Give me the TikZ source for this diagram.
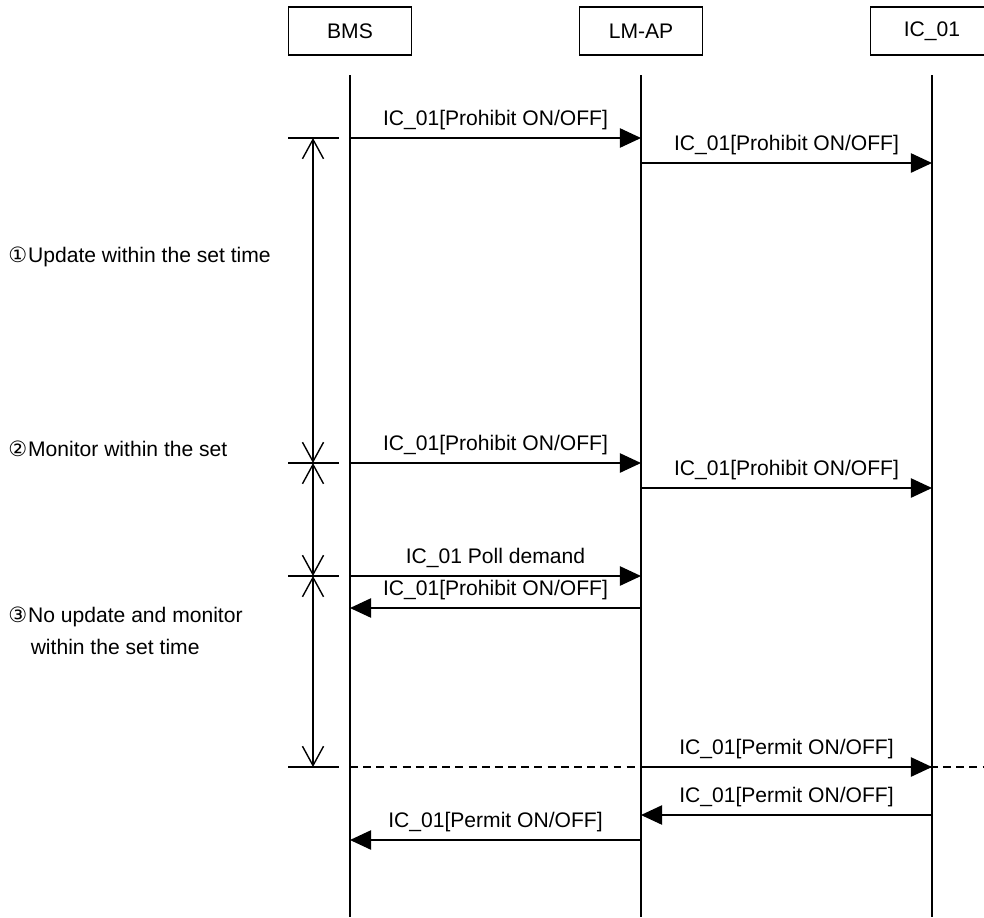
\documentclass[tikz,border=0pt]{standalone}
\usepackage{fontspec}
\setmainfont{Liberation Sans}
\newfontfamily\circfont{DejaVu Sans}
\usetikzlibrary{positioning, arrows.meta}

\begin{document}
\begin{tikzpicture}[
        x=0.02cm, y=-0.02cm,
        font=\fontsize{12}{18}\selectfont,
        head/.style={draw, rectangle, minimum width=2.46cm, minimum height=0.96cm, line width=0.8pt},
        life/.style={line width=0.8pt},
        msg/.style={-{Triangle[length=12pt, width=11pt]}, line width=0.8pt},
        lbl/.style={inner sep=0pt, anchor=base, yshift=0.25cm},
        side/.style={inner sep=0pt, anchor=west, align=left},
        period/.style={{Straight Barb[length=11pt, width=12pt]}-{Straight Barb[length=11pt, width=12pt]}, line width=0.8pt},
        tickmark/.style={line width=0.8pt},
        guard/.style={dash pattern=on 4.5pt off 3pt, line width=0.8pt}
    ]

    % Page frame
    \clip (0,0) rectangle (984,917);

    % Participants
    \node[head] (bms) at (350,31) {BMS};
    \node[head] (lmap) at (641,31) {LM-AP};
    \node[head] (ic) at (932,31) {IC\_01};

    % Lifelines
    \coordinate (top) at (0,75);
    \coordinate (bottom) at (0,917);
    \coordinate (edge) at (984,0);
    \draw[life] (bms |- top) -- (bms |- bottom);
    \draw[life] (lmap |- top) -- (lmap |- bottom);
    \draw[life] (ic |- top) -- (ic |- bottom);

    % Message rows
    \coordinate (m1) at (0,138);
    \coordinate (m2) at (0,163);
    \coordinate (m3) at (0,463);
    \coordinate (m4) at (0,488);
    \coordinate (m5) at (0,576);
    \coordinate (m6) at (0,608);
    \coordinate (m7) at (0,767);
    \coordinate (m8) at (0,815);
    \coordinate (m9) at (0,840);

    % Messages
    \draw[msg] (bms |- m1) -- node[lbl] (l1) {IC\_01[Prohibit ON/OFF]} (lmap |- m1);
    \draw[msg] (lmap |- m2) -- node[lbl] (l2) {IC\_01[Prohibit ON/OFF]} (ic |- m2);
    \draw[msg] (bms |- m3) -- node[lbl] (l3) {IC\_01[Prohibit ON/OFF]} (lmap |- m3);
    \draw[msg] (lmap |- m4) -- node[lbl] (l4) {IC\_01[Prohibit ON/OFF]} (ic |- m4);
    \draw[msg] (bms |- m5) -- node[lbl] (l5) {IC\_01 Poll demand} (lmap |- m5);
    \draw[msg] (lmap |- m6) -- node[lbl] (l6) {IC\_01[Prohibit ON/OFF]} (bms |- m6);
    \draw[guard] (bms |- m7) -- (edge |- m7);
    \draw[msg] (lmap |- m7) -- node[lbl] (l7) {IC\_01[Permit ON/OFF]} (ic |- m7);
    \draw[msg] (ic |- m8) -- node[lbl] (l8) {IC\_01[Permit ON/OFF]} (lmap |- m8);
    \draw[msg] (lmap |- m9) -- node[lbl] (l9) {IC\_01[Permit ON/OFF]} (bms |- m9);

    % Time periods
    \coordinate (p1) at (313,138);
    \coordinate (p2) at (313,463);
    \coordinate (p3) at (313,576);
    \coordinate (p4) at (313,767);
    \draw[period] (p1) -- (p2);
    \draw[period] (p2) -- (p3);
    \draw[period] (p3) -- (p4);
    \foreach \p in {p1,p2,p3,p4}
        \draw[tickmark] (\p) ++(-25,0) -- ++(51,0);

    % Period labels
    \node[side] (s1) at (8,257) {{\circfont ①}\hspace{0.5pt}Update within the set time};
    \node[side] (s2) at (8,449) {{\circfont ②}\hspace{0.5pt}Monitor within the set};
    \node[side] (s3) at (8,631) {{\circfont ③}\hspace{0.5pt}No update and monitor\\\hphantom{\circfont ③}\hspace{2pt}within the set time};

\end{tikzpicture}
\end{document}
